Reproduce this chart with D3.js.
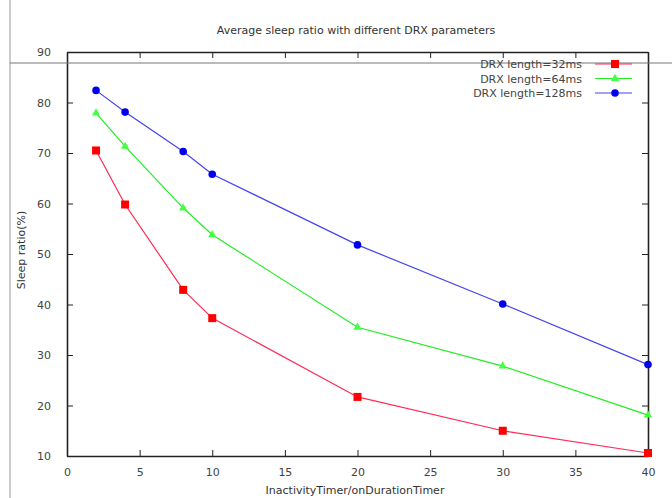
<!DOCTYPE html>
<html>
<head>
<meta charset="utf-8">
<script src="https://cdn.jsdelivr.net/npm/d3@7"></script>
<style>
  body { margin: 0; background: #fff; }
  text { font-family: "DejaVu Sans", sans-serif; }
</style>
</head>
<body>
<div class="viz"></div>
<script>
const timers = [2, 4, 8, 10, 20, 30, 40]
const drx32 = [70.5, 59.8, 42.9, 37.3, 21.7, 15.0, 10.6]
const drx64 = [77.9, 71.3, 59.1, 53.8, 35.5, 27.8, 18.1]
const drx128 = [82.4, 78.1, 70.3, 65.8, 51.8, 40.1, 28.1]
const xTicks = [0, 5, 10, 15, 20, 25, 30, 35, 40]
const yTicks = [10, 20, 30, 40, 50, 60, 70, 80, 90]

var w = 672
var h = 498
var padLeft = 67, padRight = 648, padTop = 52, padBottom = 456

var x = d3.scaleLinear().domain([0, 40]).range([padLeft, padRight])
var y = d3.scaleLinear().domain([10, 90]).range([padBottom, padTop])

const svg = d3.select(".viz")
  .append("svg")
  .attr("width", w)
  .attr("height", h)

// scan border line on the left
svg.append("line").attr("x1", 10).attr("x2", 10).attr("y1", 0).attr("y2", h)
  .attr("stroke", "#999").attr("stroke-width", 1)

// title
svg.append("text")
  .attr("x", 356).attr("y", 34)
  .attr("text-anchor", "middle")
  .attr("font-size", 11).attr("fill", "#333")
  .text("Average sleep ratio with different DRX parameters")

// axes, ticks inward
svg.append("g").attr("transform", `translate(0,${padBottom})`)
  .call(d3.axisBottom(x).tickValues(xTicks).tickSizeInner(-6).tickSizeOuter(0).tickPadding(12))
svg.append("g").attr("transform", `translate(0,${padTop})`)
  .call(d3.axisTop(x).tickValues(xTicks).tickSizeInner(-6).tickSizeOuter(0).tickFormat(""))
svg.append("g").attr("transform", `translate(${padLeft},0)`)
  .call(d3.axisLeft(y).tickValues(yTicks).tickSizeInner(-6).tickSizeOuter(0).tickPadding(16))
svg.append("g").attr("transform", `translate(${padRight},0)`)
  .call(d3.axisRight(y).tickValues(yTicks).tickSizeInner(-6).tickSizeOuter(0).tickFormat(""))

svg.selectAll(".domain").attr("stroke", "#222").attr("stroke-width", 1.6)
svg.selectAll(".tick line").attr("stroke", "#222")
svg.selectAll(".tick text").attr("font-size", 11).attr("fill", "#444")
  .attr("font-family", "DejaVu Sans, sans-serif")

// horizontal scan line
svg.append("line").attr("x1", 10).attr("x2", w).attr("y1", 63).attr("y2", 63)
  .attr("stroke", "#777").attr("stroke-width", 1)

// axis labels
svg.append("text")
  .attr("x", 355).attr("y", 494)
  .attr("text-anchor", "middle")
  .attr("font-size", 11).attr("fill", "#333")
  .text("InactivityTimer/onDurationTimer")
svg.append("text")
  .attr("transform", "translate(25,250) rotate(-90)")
  .attr("text-anchor", "middle")
  .attr("font-size", 11).attr("fill", "#333")
  .text("Sleep ratio(%)")

const series = [
  { name: "DRX length=32ms", values: drx32, line: "#ff2a55", mark: "#ff0000", shape: "square" },
  { name: "DRX length=64ms", values: drx64, line: "#22ee22", mark: "#44ff44", shape: "tri" },
  { name: "DRX length=128ms", values: drx128, line: "#4444ee", mark: "#0000ee", shape: "circle" }
]

var line = d3.line().x((d, i) => x(timers[i])).y(d => y(d))

function marker(g, s, cx, cy) {
  if (s.shape == "square") {
    g.append("rect").attr("x", cx - 4).attr("y", cy - 4).attr("width", 8).attr("height", 8).attr("fill", s.mark)
  } else if (s.shape == "tri") {
    g.append("path").attr("d", d3.symbol(d3.symbolTriangle, 30)()).attr("transform", `translate(${cx},${cy})`).attr("fill", s.mark)
  } else {
    g.append("circle").attr("cx", cx).attr("cy", cy).attr("r", 3.8).attr("fill", s.mark)
  }
}

series.forEach(s => {
  svg.append("path")
    .attr("d", line(s.values))
    .attr("fill", "none")
    .attr("stroke", s.line)
    .attr("stroke-width", 1.2)
  const g = svg.append("g")
  s.values.forEach((v, i) => marker(g, s, x(timers[i]), y(v)))
})

// legend
series.forEach((s, i) => {
  var ly = 64 + i * 14.5
  svg.append("text")
    .attr("x", 582).attr("y", ly + 4)
    .attr("text-anchor", "end")
    .attr("font-size", 11).attr("fill", "#444")
    .text(s.name)
  svg.append("line").attr("x1", 595).attr("x2", 632).attr("y1", ly).attr("y2", ly)
    .attr("stroke", s.line).attr("stroke-width", 1.2)
  marker(svg, s, 615, ly)
})
</script>
</body>
</html>
